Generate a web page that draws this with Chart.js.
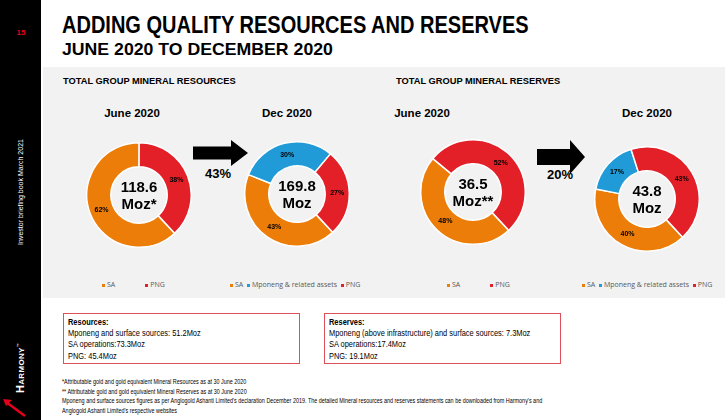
<!DOCTYPE html>
<html lang="en">
<head>
    <meta charset="UTF-8">
    <title>Adding quality resources and reserves</title>
    <script src="https://cdn.jsdelivr.net/npm/chart.js"></script>
    <style>
        body { margin: 0; width: 725px; height: 420px; position: relative; overflow: hidden; background: #fff; font-family: "Liberation Sans", Arial, sans-serif; }
        .abs { position: absolute; }
        #side { left: 0; top: 0; width: 41px; height: 420px; background: #000; }
        #page { left: 9px; top: 28px; width: 24px; text-align: center; color: #e3001b; font-weight: bold; font-size: 8px; }
        #tagline { left: 20px; top: 192px; color: #fff; font-size: 7px; white-space: nowrap; transform: translate(-50%, -50%) rotate(-90deg); }
        #logo { left: 20px; top: 368px; color: #fff; font-weight: bold; font-size: 8px; letter-spacing: 0.3px; white-space: nowrap; transform: translate(-50%, -50%) rotate(-90deg); }
        #logo span { font-size: 11px; }
        #panel { left: 43px; top: 67px; width: 682px; height: 231px; background: #f2f2f2; }
        h1, h2 { margin: 0; position: absolute; font-family: "Liberation Sans", Arial, sans-serif; font-weight: bold; color: #000; white-space: nowrap; transform-origin: 0 0; }
        h1 { left: 62px; top: 12px; font-size: 23px; transform: scaleX(0.87); }
        h2 { left: 62px; top: 40px; font-size: 17px; transform: scaleX(1.04); }
        .sect { font-weight: bold; font-size: 9.3px; top: 76px; }
        .period { font-weight: bold; font-size: 11.5px; top: 107px; transform: translateX(-50%); white-space: nowrap; }
        .growth { font-weight: bold; font-size: 13px; transform: translate(-50%, -50%); }
        canvas { position: absolute; }
        .legend { top: 280px; font-family: "Open Sans", sans-serif; font-size: 7px; color: #595959; white-space: nowrap; }
        .legend i { display: inline-block; width: 3px; height: 3px; margin-right: 2px; vertical-align: middle; }
        .box { top: 313px; width: 237px; height: 51px; border: 1px solid #e0505c; box-sizing: border-box; background: #fff; }
        .box div { position: absolute; left: 4px; top: 3px; font-size: 9.3px; line-height: 11.2px; white-space: nowrap; transform-origin: 0 0; transform: scaleX(0.8); color: #000; }
        #notes { left: 62px; top: 377px; font-size: 6.5px; line-height: 9.5px; color: #000; white-space: nowrap; transform-origin: 0 0; transform: scaleX(0.835); }
    </style>
</head>
<body>
    <div id="side" class="abs"></div>
    <div id="page" class="abs">15</div>
    <div id="tagline" class="abs">Investor briefing book March 2021</div>
    <div id="logo" class="abs"><span>H</span>ARMONY<sup style="font-size:4px">&trade;</sup></div>
    <svg class="abs" style="left:0;top:392px" width="30" height="28">
        <line x1="25" y1="24" x2="6" y2="10" stroke="#e3001b" stroke-width="2.5"/>
        <polygon points="3,7 12,8 6,14" fill="#e3001b"/>
    </svg>
    <div id="panel" class="abs"></div>

    <h1>ADDING QUALITY RESOURCES AND RESERVES</h1>
    <h2>JUNE 2020 TO DECEMBER 2020</h2>

    <div class="abs sect" style="left:63px">TOTAL GROUP MINERAL RESOURCES</div>
    <div class="abs sect" style="left:396px">TOTAL GROUP MINERAL RESERVES</div>
    <div class="abs period" style="left:132px">June 2020</div>
    <div class="abs period" style="left:287px">Dec 2020</div>
    <div class="abs period" style="left:422px">June 2020</div>
    <div class="abs period" style="left:647px">Dec 2020</div>

    <svg class="abs" style="left:0;top:0" width="725" height="420">
        <polygon points="193,146.5 231,146.5 231,140 248,153 231,166 231,159.5 193,159.5" fill="#000"/>
        <polygon points="537,149 570,149 570,140 585,157 570,174 570,165 537,165" fill="#000"/>
    </svg>
    <div class="abs growth" id="g0" style="left:218px;top:173px"></div>
    <div class="abs growth" id="g1" style="left:560px;top:174px"></div>

    <canvas id="c0" width="106" height="106" style="left:86px;top:142px"></canvas>
    <canvas id="c1" width="106" height="106" style="left:244px;top:141px"></canvas>
    <canvas id="c2" width="106" height="106" style="left:420px;top:139px"></canvas>
    <canvas id="c3" width="106" height="106" style="left:594px;top:146px"></canvas>

    <div class="abs legend" id="l0" style="left:102px"></div>
    <div class="abs legend" id="l1" style="left:230px"></div>
    <div class="abs legend" id="l2" style="left:447px"></div>
    <div class="abs legend" id="l3" style="left:582px"></div>

    <div class="abs box" style="left:63px">
        <div><b>Resources:</b><br>
        Mponeng and surface sources: 51.2Moz<br>
        SA operations:73.3Moz<br>
        PNG: 45.4Moz</div>
    </div>
    <div class="abs box" style="left:324px">
        <div><b>Reserves:</b><br>
        Mponeng (above infrastructure) and surface sources: 7.3Moz<br>
        SA operations:17.4Moz<br>
        PNG: 19.1Moz</div>
    </div>
    <div class="abs" id="notes">
        *Attributable gold and gold equivalent Mineral Resources as at 30 June 2020<br>
        ** Attributable gold and gold equivalent Mineral Reserves as at 30 June 2020<br>
        Mponeng and surface sources figures as per Anglogold Ashanti Limited's declaration December 2019. The detailed Mineral resources and reserves statements can be downloaded from Harmony's and<br>
        Anglogold Ashanti Limited's respective websites
    </div>

    <script>
        // segment shares in percent
        const juneLabels = ['SA', 'PNG'];
        const decLabels = ['SA', 'Mponeng & related assets', 'PNG'];
        const resourcesJune = [62, 38];
        const resourcesDec = [43, 30, 27];
        const reservesJune = [48, 52];
        const reservesDec = [40, 17, 43];
        const totals = ['118.6', '169.8', '36.5', '43.8'];
        const totalUnits = ['Moz*', 'Moz', 'Moz**', 'Moz'];
        const growth = ['43%', '20%'];

        const colours = { 'SA': '#ec7d08', 'Mponeng & related assets': '#209bd8', 'PNG': '#e31f28' };

        // percentage on each slice + total in the hole
        const donutText = {
            id: 'donutText',
            afterDatasetsDraw(chart, args, opts) {
                const ctx = chart.ctx;
                const meta = chart.getDatasetMeta(0);
                ctx.save();
                ctx.fillStyle = '#000';
                ctx.textAlign = 'center';
                ctx.textBaseline = 'middle';
                ctx.font = 'bold 7px "Liberation Sans", Arial, sans-serif';
                meta.data.forEach((arc, i) => {
                    const p = arc.tooltipPosition();
                    ctx.fillText(chart.data.datasets[0].data[i] + '%', p.x, p.y);
                });
                const cx = (chart.chartArea.left + chart.chartArea.right) / 2;
                const cy = (chart.chartArea.top + chart.chartArea.bottom) / 2;
                ctx.font = 'bold 15px "Liberation Sans", Arial, sans-serif';
                ctx.textBaseline = 'alphabetic';
                ctx.fillText(opts.total, cx, cy - 3);
                ctx.fillText(opts.unit, cx, cy + 14);
                ctx.restore();
            }
        };

        function makeDonut(id, labels, values, idx) {
            new Chart(document.getElementById(id), {
                type: 'doughnut',
                data: {
                    labels: labels,
                    datasets: [{
                        data: values,
                        backgroundColor: labels.map(l => colours[l]),
                        borderColor: '#fff',
                        borderWidth: 1.5
                    }]
                },
                options: {
                    responsive: false,
                    animation: false,
                    rotation: 137,
                    cutout: '54%',
                    plugins: {
                        legend: { display: false },
                        tooltip: { enabled: false },
                        donutText: { total: totals[idx], unit: totalUnits[idx] }
                    }
                },
                plugins: [donutText]
            });

            // legend built from the same labels
            document.getElementById('l' + idx).innerHTML = labels
                .map(l => '<i style="background:' + colours[l] + '"></i>' + l)
                .join(labels.length === 2 ? '<span style="display:inline-block;width:30px"></span>' : '&nbsp;&nbsp;');
        }

        makeDonut('c0', juneLabels, resourcesJune, 0);
        makeDonut('c1', decLabels, resourcesDec, 1);
        makeDonut('c2', juneLabels, reservesJune, 2);
        makeDonut('c3', decLabels, reservesDec, 3);

        document.getElementById('g0').textContent = growth[0];
        document.getElementById('g1').textContent = growth[1];
    </script>
</body>
</html>
